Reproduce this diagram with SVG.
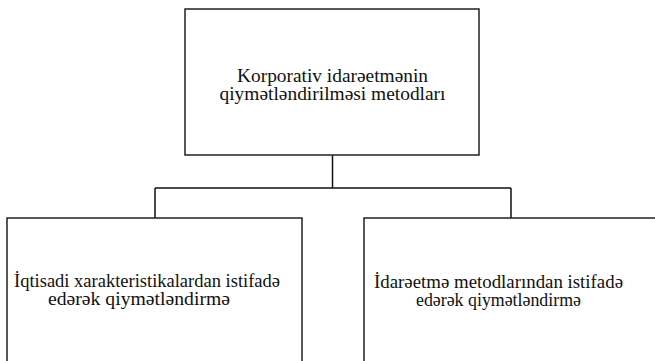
<svg xmlns="http://www.w3.org/2000/svg" width="655" height="361" viewBox="0 0 655 361">
<style>
.box{fill:#fff;stroke:#222;stroke-width:1.5}
.ln{fill:none;stroke:#111;stroke-width:1.5}
</style>
<rect width="655" height="361" fill="#fff"/>
<g id="connectors">
<path class="ln" d="M332.5,155 V188 M155,188 H511 M155,188 V218 M511,188 V218"/>
</g>
<g font-family="Liberation Serif, serif" font-size="19.5" fill="#111">
<g id="top">
<rect class="box" x="185" y="9" width="294" height="146"/>
<text x="237" y="82" textLength="191" lengthAdjust="spacingAndGlyphs">Korporativ idarəetmənin</text>
<text x="219.5" y="100" textLength="226" lengthAdjust="spacingAndGlyphs">qiymətləndirilməsi metodları</text>
</g>
<g id="left">
<rect class="box" x="7" y="218" width="295" height="160"/>
<text x="14" y="286.5" textLength="266" lengthAdjust="spacingAndGlyphs">İqtisadi xarakteristikalardan istifadə</text>
<text x="48" y="304.5" textLength="182" lengthAdjust="spacingAndGlyphs">edərək qiymətləndirmə</text>
</g>
<g id="right">
<rect class="box" x="364" y="218" width="300" height="160"/>
<text x="374" y="287.5" textLength="249" lengthAdjust="spacingAndGlyphs">İdarəetmə metodlarından istifadə</text>
<text x="416" y="305.5" textLength="165" lengthAdjust="spacingAndGlyphs">edərək qiymətləndirmə</text>
</g>
</g>
</svg>
